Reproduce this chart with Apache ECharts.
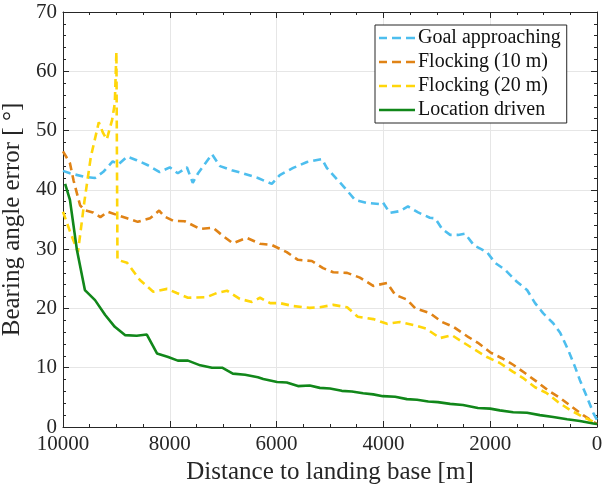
<!DOCTYPE html>
<html>
<head>
<meta charset="utf-8">
<script src="https://cdn.jsdelivr.net/npm/echarts@6/dist/echarts.min.js"></script>
<style>html,body{margin:0;padding:0;background:#fff}#c{width:602px;height:487px}</style>
</head>
<body>
<div id="c"></div>
<script>
var seriesNames = ['Goal approaching', 'Flocking (10 m)', 'Flocking (20 m)', 'Location driven'];
var xTicks = [10000, 8000, 6000, 4000, 2000, 0];
var yTicks = [0, 10, 20, 30, 40, 50, 60, 70];

var goalDist = [10000,9870,9600,9400,9250,9070,8960,8800,8620,8420,8190,8000,7850,7680,7570,7470,7210,7060,6840,6630,6350,6090,5940,5690,5430,5150,5060,4910,4720,4530,4310,4060,4010,3880,3700,3540,3350,3130,3030,2900,2750,2600,2470,2300,2060,1910,1720,1500,1310,1160,1010,820,690,540,410,320,190,70,0];
var goalVal  = [43.2,42.8,42.2,42.0,43.0,44.8,44.3,45.6,45.0,44.2,43.0,43.8,42.8,43.8,41.2,42.8,46.0,44.0,43.3,42.8,42.0,41.0,42.5,43.7,44.7,45.2,43.7,42.2,40.3,38.3,37.8,37.6,37.9,36.1,36.4,37.2,36.2,35.3,35.2,33.4,32.4,32.4,32.6,30.6,29.5,27.7,26.5,24.5,23.1,20.9,19.2,17.5,15.9,13.0,10.1,7.9,5.1,2.4,1.2];

var flock10Dist = [10000,9870,9800,9680,9600,9440,9300,9160,9000,8800,8600,8370,8200,8100,7940,7720,7430,7190,7000,6820,6560,6310,6090,5810,5600,5340,5130,4940,4680,4440,4190,3930,3780,3560,3400,3130,2900,2690,2430,2230,2000,1780,1570,1350,1120,920,690,470,260,0];
var flock10Val  = [46.5,44.5,41.5,37.4,36.6,36.2,35.4,36.3,35.8,35.2,34.6,35.2,36.5,35.5,34.8,34.7,33.4,33.6,32.2,31.0,31.9,30.9,30.7,29.5,28.2,28.0,26.8,26.1,26.0,25.2,23.8,24.3,22.3,21.5,20.0,19.2,17.7,16.9,15.3,14.2,12.6,11.6,10.5,9.1,7.6,6.2,4.9,3.4,2.0,0.5];

var flock20Dist = [10000,9870,9720,9600,9480,9330,9250,9180,9080,9030,9000,8980,8800,8560,8310,8050,7870,7660,7310,7120,6930,6690,6460,6310,6120,5940,5690,5380,5190,4940,4680,4480,4190,3930,3690,3440,3200,2940,2720,2510,2280,2060,1820,1570,1390,1160,940,730,510,260,0];
var flock20Val  = [36.3,33.0,29.5,38.0,45.5,51.4,49.6,48.5,51.8,54.6,63.3,28.2,27.7,24.8,22.8,23.3,22.6,21.8,21.9,22.6,23.0,21.6,21.1,21.8,20.9,20.9,20.4,20.1,20.2,20.6,20.2,18.6,18.2,17.4,17.7,17.2,16.6,15.0,15.5,14.3,13.0,11.8,10.8,9.3,8.3,6.7,5.7,4.2,2.9,1.7,0.6];

var locDist = [9960,9870,9740,9590,9400,9210,9030,8840,8620,8430,8240,8030,7850,7660,7430,7210,7020,6820,6590,6350,6250,5990,5810,5600,5380,5190,5000,4780,4590,4380,4190,4010,3780,3560,3370,3160,2980,2750,2510,2230,2000,1820,1570,1310,1070,820,560,320,70,0];
var locVal  = [41.0,38.3,29.9,23.1,21.4,18.9,16.9,15.5,15.4,15.6,12.4,11.8,11.2,11.2,10.4,10.0,10.0,9.0,8.8,8.4,8.1,7.6,7.5,6.9,7.0,6.6,6.5,6.1,6.0,5.7,5.5,5.2,5.1,4.7,4.6,4.3,4.2,3.9,3.7,3.2,3.1,2.8,2.5,2.4,2.0,1.7,1.3,1.0,0.6,0.5];

function pairs(xs, ys) { return xs.map(function (x, i) { return [x, ys[i]]; }); }

var FONT = 'Liberation Serif';
var AX = '#262626';
var chart = echarts.init(document.getElementById('c'), null, {renderer: 'canvas'});

function xAxisDef(pos, labels) {
  return {
    type: 'value', position: pos, inverse: true,
    min: xTicks[xTicks.length - 1], max: xTicks[0], interval: 2000,
    name: labels ? 'Distance to landing base [m]' : '',
    nameLocation: 'middle', nameGap: 29,
    nameTextStyle: {fontFamily: FONT, fontSize: 25, color: AX},
    axisLine: {show: true, onZero: false, lineStyle: {color: AX, width: 1}},
    axisTick: {show: true, inside: true, length: 6, lineStyle: {color: AX}},
    minorTick: {show: true, splitNumber: 4, length: 3, lineStyle: {color: AX}},
    axisLabel: {show: labels, fontFamily: FONT, fontSize: 21, color: AX, margin: 7,
      formatter: function (v) { return String(v); }},
    splitLine: {show: labels, lineStyle: {color: '#e6e6e6', width: 1}}
  };
}
function yAxisDef(pos, labels) {
  return {
    type: 'value', position: pos,
    min: yTicks[0], max: yTicks[yTicks.length - 1], interval: 10,
    name: labels ? 'Bearing angle error [ °]' : '',
    nameLocation: 'middle', nameGap: 31,
    nameTextStyle: {fontFamily: FONT, fontSize: 25, color: AX},
    axisLine: {show: true, onZero: false, lineStyle: {color: AX, width: 1}},
    axisTick: {show: true, inside: true, length: 6, lineStyle: {color: AX}},
    minorTick: {show: true, splitNumber: 5, length: 3, lineStyle: {color: AX}},
    axisLabel: {show: labels, fontFamily: FONT, fontSize: 21, color: AX, margin: 6,
      formatter: function (v) { return String(v); }},
    splitLine: {show: labels, lineStyle: {color: '#e6e6e6', width: 1}}
  };
}

var colors = ['#4DBEEE', '#E08316', '#FFD60A', '#11871A'];
var dashes = [[8, 5], [8, 5], [8, 5], 'solid'];
var datas = [pairs(goalDist, goalVal), pairs(flock10Dist, flock10Val), pairs(flock20Dist, flock20Val), pairs(locDist, locVal)];
var DASH_ICON = 'path://M0,0h8v2.6h-8z M13,0h9v2.6h-9z M27,0h9v2.6h-9z';
var SOLID_ICON = 'path://M0,0h36v2.6h-36z';

var series = seriesNames.map(function (n, i) {
  return {
    name: n, type: 'line', data: datas[i], showSymbol: false, symbol: 'none',
    xAxisIndex: 0, yAxisIndex: 0, animation: false, z: 2 + (i === 3 ? 1 : 0),
    lineStyle: {color: colors[i], width: 2.6, type: dashes[i]},
    itemStyle: {color: colors[i]}
  };
});

chart.setOption({
  animation: false,
  backgroundColor: '#fff',
  grid: {left: 63, right: 5, top: 12, bottom: 60, containLabel: false, outerBoundsMode: 'none'},
  xAxis: [xAxisDef('bottom', true), xAxisDef('top', false)],
  yAxis: [yAxisDef('left', true), yAxisDef('right', false)],
  legend: {
    orient: 'vertical', left: 375, top: 25,
    data: seriesNames.map(function (n, i) {
      return {name: n, icon: i === 3 ? SOLID_ICON : DASH_ICON, itemStyle: {color: colors[i], borderWidth: 0}};
    }),
    itemWidth: 36, itemHeight: 2.6, itemGap: 4,
    padding: [3, 6, 3, 4],
    backgroundColor: '#fff', borderColor: AX, borderWidth: 1,
    textStyle: {fontFamily: FONT, fontSize: 20, lineHeight: 20, color: '#111', padding: [0, 0, 0, -2]}
  },
  series: series
});
</script>
</body>
</html>
